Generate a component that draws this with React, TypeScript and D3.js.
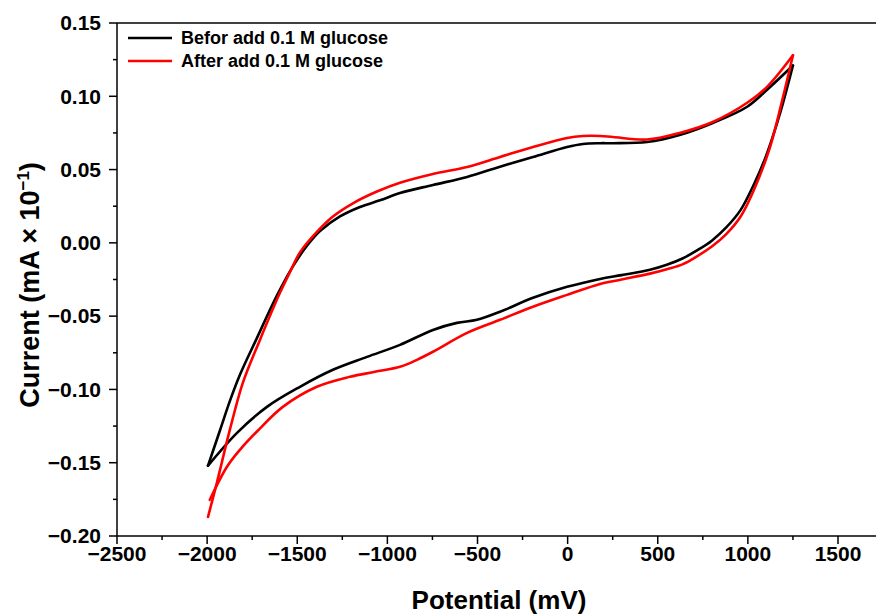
import React from "react";
import * as d3 from "d3";

const W = 876;
const H = 616;

// Before glucose: forward (anodic) and reverse scan
const blackFwdX = [-1995, -1929, -1874, -1818, -1724, -1613, -1524, -1446, -1374, -1263, -1152, -1041, -930, -747, -558, -375, -192, -3, 85, 180, 252, 441, 621, 805, 994, 1105, 1250];
const blackFwdY = [-0.152, -0.128, -0.108, -0.09, -0.065, -0.036, -0.016, -0.002, 0.008, 0.018, 0.0245, 0.029, 0.034, 0.0395, 0.045, 0.052, 0.0586, 0.0654, 0.0675, 0.068, 0.068, 0.0688, 0.0736, 0.0818, 0.0927, 0.1043, 0.121];
const blackRevX = [1250, 1180, 1100, 1030, 960, 880, 800, 720, 640, 550, 457, 300, 180, -3, -192, -375, -503, -614, -747, -930, -1113, -1302, -1485, -1668, -1834, -1995];
const blackRevY = [0.121, 0.089, 0.059, 0.039, 0.0225, 0.0105, 0.0015, -0.005, -0.0105, -0.015, -0.0184, -0.022, -0.0246, -0.03, -0.0375, -0.047, -0.0525, -0.0546, -0.0594, -0.0696, -0.0778, -0.0866, -0.0982, -0.1119, -0.1296, -0.152];

// After glucose
const redFwdX = [-1995, -1946, -1874, -1802, -1707, -1596, -1540, -1485, -1391, -1302, -1191, -1058, -930, -747, -558, -375, -192, -3, 85, 180, 252, 441, 621, 805, 994, 1105, 1250];
const redFwdY = [-0.187, -0.1637, -0.1276, -0.0955, -0.0662, -0.0341, -0.0198, -0.0065, 0.0075, 0.018, 0.027, 0.035, 0.041, 0.047, 0.0518, 0.0586, 0.0654, 0.0716, 0.0729, 0.0729, 0.0722, 0.0705, 0.075, 0.0825, 0.0954, 0.1063, 0.128];
const redRevX = [1250, 1195, 1123, 1040, 960, 880, 800, 720, 640, 550, 457, 300, 180, -3, -192, -375, -558, -747, -836, -930, -1069, -1208, -1391, -1580, -1718, -1818, -1890, -1985];
const redRevY = [0.128, 0.0995, 0.0654, 0.038, 0.018, 0.006, -0.0025, -0.009, -0.0145, -0.018, -0.021, -0.025, -0.028, -0.0355, -0.0436, -0.0525, -0.0614, -0.0743, -0.0798, -0.0846, -0.088, -0.0914, -0.0982, -0.1119, -0.128, -0.1412, -0.1528, -0.1753];

const xTicks = [-2500, -2000, -1500, -1000, -500, 0, 500, 1000, 1500];
const yTicks = [0.15, 0.1, 0.05, 0, -0.05, -0.1, -0.15, -0.2];
const seriesNames = ["Befor add 0.1 M glucose", "After add 0.1 M glucose"];
const seriesColors = ["#000000", "#ff0000"];

const FONT = "'Liberation Sans', Arial, sans-serif";

const fmtMinus = (s: string) => s.replace("-", "\u2212");

export default function App() {
  const x = d3.scaleLinear().domain([-2500, 1500]).range([117, 838]);
  const y = d3.scaleLinear().domain([-0.2, 0.15]).range([536, 23]);
  const xMax = x.invert(W + 10);

  const line = d3
    .line<[number, number]>()
    .x((d) => x(d[0]))
    .y((d) => y(d[1]))
    .curve(d3.curveCatmullRom.alpha(0.5));

  const zip = (a: number[], b: number[]) => a.map((v, i) => [v, b[i]] as [number, number]);

  const paths = [
    { d: line(zip(blackFwdX, blackFwdY)), c: seriesColors[0] },
    { d: line(zip(blackRevX, blackRevY)), c: seriesColors[0] },
    { d: line(zip(redFwdX, redFwdY)), c: seriesColors[1] },
    { d: line(zip(redRevX, redRevY)), c: seriesColors[1] },
  ];

  const xMinor: number[] = [];
  for (let v = -2250; v < xMax; v += 500) xMinor.push(v);
  const yMinor: number[] = [];
  for (let v = -0.175; v < 0.15; v += 0.05) yMinor.push(v);

  const x0 = x(-2500);
  const yb = y(-0.2);
  const yt = y(0.15);

  return (
    <svg
      width={W}
      height={H}
      style={{ position: "absolute", left: 0, top: 0, display: "block", background: "#fff" }}
      fontFamily={FONT}
    >
      <rect x={0} y={0} width={W} height={H} fill="#fff" />
      {/* curves */}
      <g fill="none" strokeWidth={2.6} strokeLinejoin="round" strokeLinecap="round">
        {paths.map((p, i) => (
          <path key={i} d={p.d || ""} stroke={p.c} />
        ))}
      </g>
      {/* frame */}
      <g stroke="#000" strokeWidth={1.5} fill="none">
        <line x1={x0} y1={yt} x2={W + 5} y2={yt} />
        <line x1={x0} y1={yb} x2={W + 5} y2={yb} />
        <line x1={x0} y1={yt} x2={x0} y2={yb} />
      </g>
      {/* ticks */}
      <g stroke="#000" strokeWidth={1.5}>
        {yTicks.map((t) => (
          <line key={t} x1={x0 - 8} x2={x0} y1={y(t)} y2={y(t)} />
        ))}
        {yMinor.map((t) => (
          <line key={"m" + t} x1={x0 - 4} x2={x0} y1={y(t)} y2={y(t)} />
        ))}
        {xTicks.map((t) => (
          <line key={t} x1={x(t)} x2={x(t)} y1={yb} y2={yb + 8} />
        ))}
        {xMinor.map((t) => (
          <line key={"m" + t} x1={x(t)} x2={x(t)} y1={yb} y2={yb + 4} />
        ))}
      </g>
      {/* tick labels */}
      <g fontWeight="bold" fontSize={21} fill="#000">
        {yTicks.map((t) => (
          <text key={t} x={x0 - 16} y={y(t)} dy="0.35em" textAnchor="end">
            {fmtMinus(d3.format(".2f")(t))}
          </text>
        ))}
        {xTicks.map((t) => (
          <text key={t} x={x(t)} y={yb + 25} textAnchor="middle">
            {fmtMinus(String(t))}
          </text>
        ))}
      </g>
      {/* axis titles */}
      <text x={499} y={609} textAnchor="middle" fontWeight="bold" fontSize={26}>
        Potential (mV)
      </text>
      <text
        transform={`translate(39, 285) rotate(-90)`}
        textAnchor="middle"
        fontWeight="bold"
        fontSize={27}
      >
        Current (mA × 10
        <tspan dy={-10} fontSize={17}>
          −1
        </tspan>
        <tspan dy={10}>)</tspan>
      </text>
      {/* legend */}
      <g fontWeight="bold" fontSize={18}>
        {seriesNames.map((n, i) => (
          <g key={n} transform={`translate(0, ${38 + i * 23})`}>
            <line x1={128} x2={172} y1={0} y2={0} stroke={seriesColors[i]} strokeWidth={2.6} />
            <text x={181} y={0} dy="0.35em" fill="#000">
              {n}
            </text>
          </g>
        ))}
      </g>
    </svg>
  );
}
